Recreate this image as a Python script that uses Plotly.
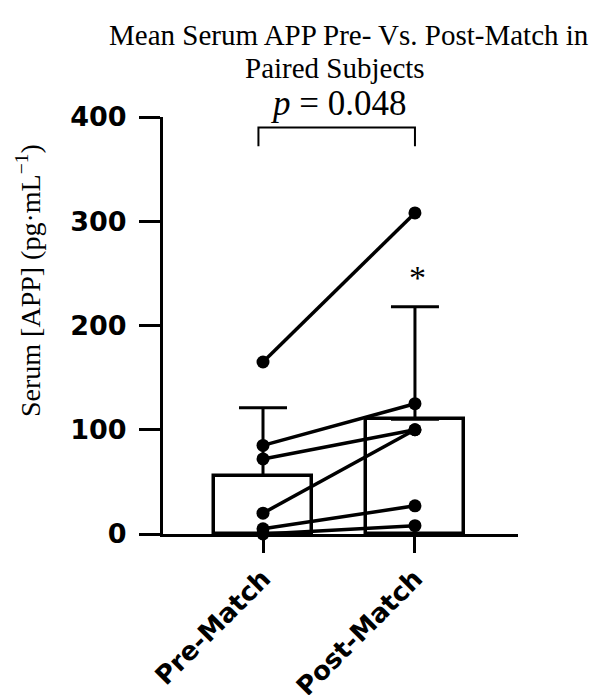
import plotly.graph_objects as go

categories = ["Pre-Match", "Post-Match"]
cat_pos = [0, 1]
mean_values = [56, 110]
sd_values = [65, 108]

pre_values = [165, 85, 72, 20, 5, 0]
post_values = [308, 125, 100, 100, 27, 8]

y_ticks = [0, 100, 200, 300, 400]
p_text = "<i>p</i> = 0.048"

serif = "Liberation Serif"
sans = "DejaVu Sans"

# screen-pixel geometry of the plot area (page body adds an 8px offset)
PLOT_LEFT, PLOT_RIGHT = 163, 518
PLOT_TOP, PLOT_BOTTOM = 117, 534
PLOT_W = PLOT_RIGHT - PLOT_LEFT
PLOT_H = PLOT_BOTTOM - PLOT_TOP
OFF = 8
FIG_W, FIG_H = 606 - OFF, 695 - OFF


def px(screen_x):
    return (screen_x - PLOT_LEFT) / PLOT_W


def py(screen_y):
    return (PLOT_BOTTOM - screen_y) / PLOT_H


fig = go.Figure()

fig.add_trace(go.Bar(
    x=cat_pos, y=mean_values, width=0.645,
    marker=dict(color="white", line=dict(color="black", width=3.5)),
    error_y=dict(type="data", array=sd_values, arrayminus=[0, 0], symmetric=False,
                 color="black", thickness=3, width=24),
    showlegend=False, hoverinfo="skip",
))

for a, b in zip(pre_values, post_values):
    fig.add_trace(go.Scatter(
        x=cat_pos, y=[a, b], mode="lines+markers",
        line=dict(color="black", width=3.5),
        marker=dict(color="black", size=13),
        cliponaxis=False, showlegend=False,
    ))

# significance bracket
fig.add_shape(type="path", xref="x", yref="y",
              path="M -0.03,372 L -0.03,390 L 1.0,390 L 1.0,372",
              line=dict(color="black", width=2))

fig.add_annotation(x=0.5, y=py(104), xref="x", yref="paper", text=p_text, showarrow=False,
                   xanchor="center", yanchor="middle",
                   font=dict(family=serif, size=35, color="black"))
fig.add_annotation(x=cat_pos[1], y=246, xref="x", yref="y", text="*", showarrow=False,
                   xanchor="center", yanchor="middle", xshift=3,
                   font=dict(family=serif, size=34, color="black"))

fig.add_annotation(x=px(349), y=py(35), xref="paper", yref="paper",
                   text="Mean Serum APP Pre- Vs. Post-Match in", showarrow=False,
                   xanchor="center", yanchor="middle",
                   font=dict(family=serif, size=29, color="black"))
fig.add_annotation(x=px(335), y=py(68), xref="paper", yref="paper",
                   text="Paired Subjects", showarrow=False,
                   xanchor="center", yanchor="middle",
                   font=dict(family=serif, size=29, color="black"))

fig.add_annotation(x=px(28), y=py(281), xref="paper", yref="paper", textangle=-90,
                   text="Serum [APP] (pg·mL<sup>−1</sup>)", showarrow=False,
                   xanchor="center", yanchor="middle",
                   font=dict(family=serif, size=28, color="black"))

fig.update_layout(
    width=FIG_W, height=FIG_H,
    margin=dict(l=PLOT_LEFT - OFF, r=FIG_W - (PLOT_RIGHT - OFF),
                t=PLOT_TOP - OFF, b=FIG_H - (PLOT_BOTTOM - OFF)),
    paper_bgcolor="white", plot_bgcolor="white",
    bargap=0,
)
fig.update_xaxes(
    range=[-0.658, 0.678 + 1], tickvals=cat_pos, ticktext=categories,
    tickangle=-45, showline=True, linecolor="black", linewidth=3,
    ticks="outside", ticklen=16, tickwidth=3, tickcolor="black",
    showgrid=False, zeroline=False, ticklabelstandoff=0, automargin=False,
    tickfont=dict(family=sans, size=26, color="black", weight="bold"),
)
fig.update_yaxes(
    range=[0, 400], tickvals=y_ticks, showline=True, linecolor="black", linewidth=3,
    ticks="outside", ticklen=21, tickwidth=3, tickcolor="black",
    showgrid=False, zeroline=False, ticklabelstandoff=7, automargin=False,
    tickfont=dict(family=sans, size=27, color="black", weight="bold"),
)

fig.write_html("out.html")
